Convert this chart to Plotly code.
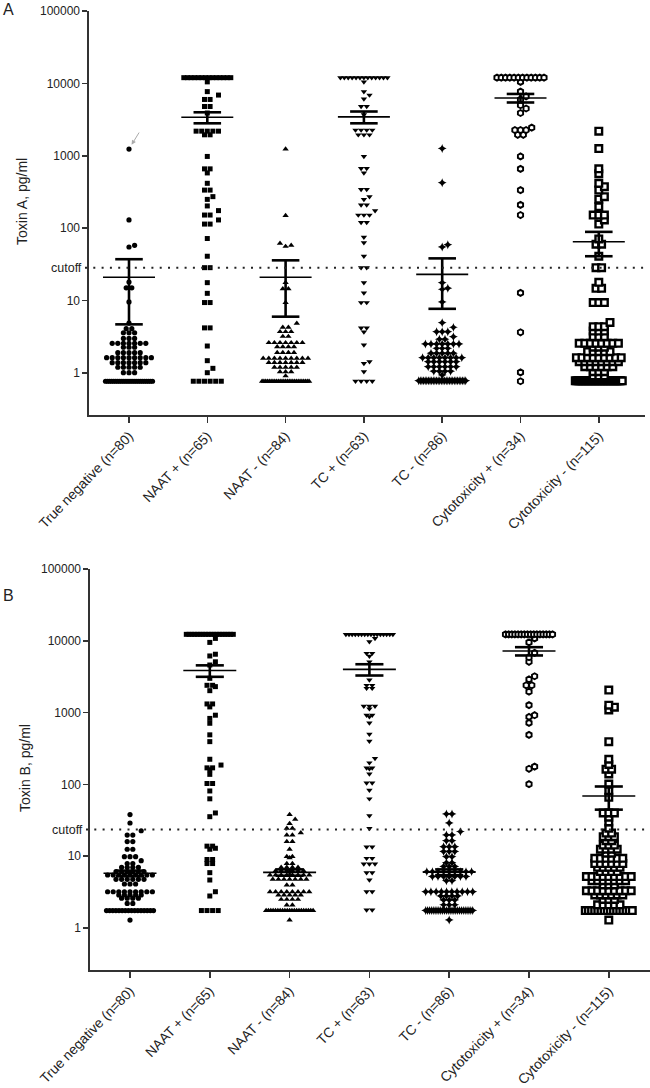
import numpy as np
import plotly.graph_objects as go

categories = ["True negative (n=80)", "NAAT + (n=65)", "NAAT - (n=84)", "TC + (n=63)",
              "TC - (n=86)", "Cytotoxicity + (n=34)", "Cytotoxicity - (n=115)"]
y_tickvals = [1, 10, 100, 1000, 10000, 100000]
y_ticktext = ["1", "10", "100", "1000", "10000", "100000"]

# ---------------- Panel A : Toxin A (pg/ml); each value with the number of dots in its row
A_tn_vals = [1240, 130, 58, 55, 18, 15, 9.6, 4.9, 4.1, 3.6, 3.0, 2.57, 2.27, 1.91, 1.63, 1.39, 1.2, 1.01, 0.77]
A_tn_cnts = [1, 1, 1, 1, 1, 2, 1, 1, 2, 3, 3, 7, 3, 5, 9, 7, 5, 3, 24]
A_naatp_vals = [12000, 10500, 7700, 6900, 6000, 4800, 3900, 2190, 1950, 980, 660, 580, 417, 336, 273, 250,
                203, 175, 152, 130, 114, 72, 41, 28.5, 17.7, 12.6, 9.4, 4.2, 2.36, 1.48, 1.16, 1.01, 0.77]
A_naatp_cnts = [14, 1, 1, 1, 2, 2, 1, 5, 2, 1, 2, 1, 1, 2, 1, 1, 1, 1, 2, 1, 2, 1, 1, 2, 1, 1, 2, 2, 1, 1, 1, 1, 6]
A_naatn_vals = [1240, 149, 62, 58, 56, 17.7, 14.5, 9.4, 4.85, 4.27, 3.72, 3.2, 2.62, 2.3, 1.91, 1.6, 1.39,
                1.2, 1.04, 0.91, 0.77]
A_naatn_cnts = [1, 1, 1, 1, 1, 1, 2, 1, 1, 2, 3, 2, 7, 4, 4, 9, 7, 5, 3, 1, 27]
A_tcp_vals = [12000, 10500, 7700, 6900, 6100, 4800, 3700, 2270, 1950, 980, 670, 580, 343, 273, 250, 210, 175,
              152, 120, 75, 63, 41, 28.5, 17.7, 12.8, 9.4, 4.2, 3.7, 2.44, 1.43, 1.36, 1.04, 0.77]
A_tcp_cnts = [13, 1, 1, 1, 1, 2, 1, 4, 3, 1, 2, 1, 2, 1, 1, 2, 1, 3, 2, 1, 1, 1, 2, 1, 1, 2, 2, 1, 1, 1, 1, 1, 4]
A_tcn_vals = [1260, 425, 59, 55, 17.7, 14.8, 14.3, 9.6, 4.95, 4.27, 3.72, 3.17, 2.92, 2.51, 2.19, 1.87, 1.63,
              1.43, 1.22, 1.06, 0.94, 0.78]
A_tcn_cnts = [1, 1, 1, 1, 1, 1, 1, 1, 1, 1, 3, 1, 2, 7, 3, 5, 8, 6, 6, 4, 1, 30]
A_cytp_vals = [12000, 10500, 7700, 6600, 6000, 5000, 4500, 3900, 2450, 2270, 1950, 980, 660, 336, 210, 152,
               12.8, 3.65, 1.02, 0.77]
A_cytp_cnts = [12, 1, 1, 1, 1, 1, 1, 1, 1, 3, 2, 1, 1, 1, 1, 1, 1, 1, 1, 1]
A_cytn_vals = [2190, 1260, 660, 565, 417, 375, 336, 273, 252, 198, 152, 130, 114, 71, 60, 41, 28.5, 17.9, 14.8,
               9.4, 5.0, 4.36, 3.8, 3.17, 2.57, 2.27, 1.97, 1.63, 1.43, 1.22, 1.04, 0.91, 0.78]
A_cytn_cnts = [1, 1, 1, 1, 1, 1, 1, 1, 1, 1, 3, 1, 1, 1, 2, 1, 2, 1, 2, 3, 1, 3, 3, 3, 8, 3, 5, 9, 8, 6, 3, 3, 33]
A_mean = [21, 3400, 21, 3450, 23, 6300, 65]
A_sem = [16.3, 590, 15, 640, 15.3, 850, 24]
A_cutoff = 28.5

# ---------------- Panel B : Toxin B (pg/ml)
B_tn_vals = [38, 29, 22.6, 19.7, 16, 12.5, 9.85, 8.65, 7.9, 7.0, 6.1, 5.47, 4.76, 4.1, 3.2, 2.88, 2.6, 2.2, 1.75, 1.29]
B_tn_cnts = [1, 1, 1, 2, 2, 2, 3, 1, 2, 4, 6, 9, 6, 3, 9, 5, 4, 2, 16, 1]
B_naatp_vals = [12300, 10800, 9500, 6500, 6150, 5100, 4600, 3000, 2400, 2300, 2020, 1320, 1200, 920, 830, 710,
                490, 394, 224, 186, 170, 160, 138, 103, 81, 63, 40, 35.5, 13.8, 12.9, 12.5, 9.0, 7.9, 5.9, 4.66,
                3.2, 2.79, 1.75]
B_naatp_cnts = [18, 1, 1, 1, 1, 1, 1, 1, 2, 1, 1, 2, 1, 1, 1, 1, 1, 1, 1, 1, 2, 1, 1, 2, 1, 1, 1, 1, 2, 1, 1, 2,
                2, 1, 1, 1, 1, 4]
B_naatn_vals = [38, 32.7, 28.5, 24.5, 21.2, 19.7, 16, 12.5, 9.85, 9.5, 7.9, 7.0, 6.27, 5.47, 4.76, 3.97, 3.2,
                2.88, 2.5, 2.09, 1.75, 1.29]
B_naatn_cnts = [1, 1, 1, 2, 1, 2, 2, 1, 2, 1, 2, 4, 6, 8, 7, 2, 8, 5, 4, 2, 21, 1]
B_tcp_vals = [12300, 10800, 9700, 6700, 6100, 5100, 2850, 2400, 2180, 1230, 1130, 920, 880, 720, 500, 400, 230,
              200, 170, 165, 140, 105, 83, 63, 36.6, 24.4, 13.5, 9.35, 7.8, 5.9, 4.66, 3.2, 1.78]
B_tcp_cnts = [16, 1, 1, 2, 1, 1, 1, 2, 2, 3, 1, 2, 1, 1, 1, 1, 1, 1, 2, 1, 1, 2, 1, 1, 1, 1, 2, 2, 3, 2, 1, 2, 2]
B_tcn_vals = [38.7, 29, 22, 19.7, 16.4, 13.5, 11.6, 9.85, 8.1, 7.2, 6.1, 5.2, 4.56, 3.2, 2.8, 2.45, 2.1, 1.75, 1.29]
B_tcn_cnts = [2, 1, 1, 2, 2, 3, 3, 2, 2, 3, 9, 7, 2, 10, 4, 3, 3, 26, 1]
B_cytp_vals = [12300, 10800, 9500, 6800, 5900, 5100, 3210, 2900, 2400, 1960, 1270, 920, 870, 720, 490, 177, 165, 101]
B_cytp_cnts = [16, 1, 1, 1, 1, 1, 1, 1, 2, 1, 1, 1, 1, 1, 1, 1, 1, 1]
B_cytn_vals = [2060, 1270, 1190, 1090, 394, 224, 190, 163, 140, 101, 82, 66, 40, 35, 30, 24.5, 21, 18.7, 16.4,
               14.3, 12.5, 11, 9.35, 7.9, 7.0, 6.1, 5.2, 4.56, 3.97, 3.3, 2.88, 2.5, 2.1, 1.75, 1.29]
B_cytn_cnts = [1, 1, 1, 1, 1, 1, 1, 2, 1, 1, 1, 1, 3, 1, 1, 1, 2, 3, 2, 3, 4, 2, 6, 6, 5, 4, 9, 7, 3, 9, 6, 3, 5,
               16, 1]
B_mean = [5.8, 3850, 5.95, 4000, 6.0, 7200, 69]
B_sem = [0.5, 700, 0.6, 715, 0.55, 950, 24.5]
B_cutoff = 23.5

A_groups = [(A_tn_vals, A_tn_cnts), (A_naatp_vals, A_naatp_cnts), (A_naatn_vals, A_naatn_cnts),
            (A_tcp_vals, A_tcp_cnts), (A_tcn_vals, A_tcn_cnts), (A_cytp_vals, A_cytp_cnts),
            (A_cytn_vals, A_cytn_cnts)]
B_groups = [(B_tn_vals, B_tn_cnts), (B_naatp_vals, B_naatp_cnts), (B_naatn_vals, B_naatn_cnts),
            (B_tcp_vals, B_tcp_cnts), (B_tcn_vals, B_tcn_cnts), (B_cytp_vals, B_cytp_cnts),
            (B_cytn_vals, B_cytn_cnts)]

# ---------------- styling
W, H = 650, 1088
FONT = "Liberation Sans, Arial, sans-serif"
AX = "#333333"
markers = [
    dict(symbol="circle", size=5.2, color="black"),
    dict(symbol="square", size=5, color="black"),
    dict(symbol="triangle-up", size=5.6, color="black"),
    dict(symbol="triangle-down", size=5.6, color="black"),
    dict(symbol="star-diamond", size=6.4, color="black"),
    dict(symbol="hexagon", size=6, color="white", line=dict(color="black", width=1.9)),
    dict(symbol="square", size=6.6, color="white", line=dict(color="black", width=2.4)),
]

# panel geometry in page pixels
panels = {
    "A": dict(x0=89, x1=645, ytop=11, ybot=415, yrng=[-0.58, 5], c0=129, step=78.3),
    "B": dict(x0=90, x1=650, ytop=569, ybot=970, yrng=[-0.585, 5], c0=130, step=79.8),
}
for p in panels.values():
    p["xrng"] = [(p["x0"] - p["c0"]) / p["step"], (p["x1"] - p["c0"]) / p["step"]]
    p["dec"] = (p["ybot"] - p["ytop"]) / (p["yrng"][1] - p["yrng"][0])


def px_x(x):
    return x / W


def px_y(y):
    return 1 - y / H


def swarm(vals, cnts, dec_px, cat_px, d_px=5.6, w_px=23.5, sep_px=4.5):
    xs, ys, placed = [], [], []
    for v, n in sorted(zip(vals, cnts), key=lambda t: t[0]):
        ypx = np.log10(v) * dec_px
        if n == 1:
            xo = 0.0
            for k in [0, 1, -1, 2, -2, 3, -3]:
                xo = k * d_px
                if all(abs(xo - px) >= d_px * 0.9 or abs(ypx - py) >= sep_px for px, py in placed):
                    break
            offs = [xo]
        else:
            span = min((n - 1) * d_px, 2 * w_px)
            stp = span / (n - 1)
            offs = [-span / 2 + i * stp for i in range(n)]
        for xo in offs:
            placed.append((xo, ypx))
            xs.append(xo / cat_px)
            ys.append(v)
    return xs, ys


fig = go.Figure()
for key, groups, means, sems, xa, ya in [("A", A_groups, A_mean, A_sem, "x", "y"),
                                          ("B", B_groups, B_mean, B_sem, "x2", "y2")]:
    p = panels[key]
    for i, (vals, cnts) in enumerate(groups):
        xs, ys = swarm(vals, cnts, p["dec"], p["step"])
        fig.add_trace(go.Scatter(x=[i + v for v in xs], y=ys, mode="markers", marker=markers[i],
                                 xaxis=xa, yaxis=ya, showlegend=False, hoverinfo="skip"))
    mx, my, ex, ey = [], [], [], []
    for i, (m, s) in enumerate(zip(means, sems)):
        mx += [i - 0.332, i + 0.332, None]
        my += [m, m, None]
        ex += [i - 0.176, i + 0.176, None, i, i, None, i - 0.176, i + 0.176, None]
        ey += [m + s, m + s, None, m + s, m - s, None, m - s, m - s, None]
    fig.add_trace(go.Scatter(x=mx, y=my, mode="lines", line=dict(color="black", width=1.6),
                             xaxis=xa, yaxis=ya, showlegend=False, hoverinfo="skip"))
    fig.add_trace(go.Scatter(x=ex, y=ey, mode="lines", line=dict(color="black", width=2.6),
                             xaxis=xa, yaxis=ya, showlegend=False, hoverinfo="skip"))

common_x = dict(tickmode="array", tickvals=list(range(7)), ticktext=categories, tickangle=-46,
                ticks="outside", ticklen=6, tickwidth=1.5, tickcolor=AX, showline=True, linecolor=AX,
                linewidth=1.6, showgrid=False, zeroline=False, automargin=False,
                tickfont=dict(family=FONT, size=13.8, color="#222"))
common_y = dict(type="log", tickmode="array", tickvals=y_tickvals, ticktext=y_ticktext, ticks="outside",
                ticklen=5, tickwidth=1.5, tickcolor=AX, showline=True, linecolor=AX, linewidth=1.6,
                showgrid=False, zeroline=False, automargin=False,
                tickfont=dict(family=FONT, size=12, color="#222"))

pA, pB = panels["A"], panels["B"]
fig.update_layout(
    width=W, height=H, margin=dict(l=0, r=0, t=0, b=0), autosize=False,
    paper_bgcolor="white", plot_bgcolor="white", showlegend=False,
    xaxis=dict(common_x, domain=[px_x(pA["x0"]), px_x(pA["x1"])], range=pA["xrng"], anchor="y"),
    yaxis=dict(common_y, domain=[px_y(pA["ybot"]), px_y(pA["ytop"])], range=pA["yrng"], anchor="x"),
    xaxis2=dict(common_x, domain=[px_x(pB["x0"]), min(1.0, px_x(pB["x1"]))], range=pB["xrng"], anchor="y2"),
    yaxis2=dict(common_y, domain=[px_y(pB["ybot"]), px_y(pB["ytop"])], range=pB["yrng"], anchor="x2"),
)

# cutoff lines and labels
for p, yref, cut in [(pA, "y", A_cutoff), (pB, "y2", B_cutoff)]:
    fig.add_shape(type="line", xref="paper", yref=yref, x0=px_x(p["x0"] - 4), x1=min(1.0, px_x(p["x1"])),
                  y0=cut, y1=cut, line=dict(color="#222", width=2, dash="2px,6.3px"))
    fig.add_annotation(xref="paper", yref=yref, x=px_x(p["x0"] - 5), y=np.log10(cut), text="cutoff",
                       showarrow=False, xanchor="right", yanchor="middle",
                       font=dict(family=FONT, size=12.5, color="#222"))

# axis titles and panel letters
fig.add_annotation(xref="paper", yref="paper", x=px_x(22), y=px_y(202), text="Toxin A, pg/ml", textangle=-90,
                   showarrow=False, xanchor="center", yanchor="middle",
                   font=dict(family=FONT, size=14, color="#222"))
fig.add_annotation(xref="paper", yref="paper", x=px_x(25), y=px_y(768), text="Toxin B, pg/ml", textangle=-90,
                   showarrow=False, xanchor="center", yanchor="middle",
                   font=dict(family=FONT, size=14, color="#222"))
fig.add_annotation(xref="paper", yref="paper", x=px_x(8), y=px_y(10), text="A", showarrow=False,
                   xanchor="center", yanchor="middle", font=dict(family=FONT, size=16, color="#222"))
fig.add_annotation(xref="paper", yref="paper", x=px_x(8), y=px_y(595), text="B", showarrow=False,
                   xanchor="center", yanchor="middle", font=dict(family=FONT, size=16, color="#222"))

# arrow pointing at the highest true-negative value in panel A
fig.add_annotation(x=0, y=np.log10(max(A_tn_vals)), xref="x", yref="y", text="", showarrow=True,
                   ax=11, ay=-18, standoff=5, arrowhead=2, arrowsize=0.9, arrowwidth=1, arrowcolor="#aaaaaa")

fig.write_html("out.html", config={"displayModeBar": False, "staticPlot": True},
               post_script="document.body.style.margin='0px';document.body.style.overflow='hidden';")
